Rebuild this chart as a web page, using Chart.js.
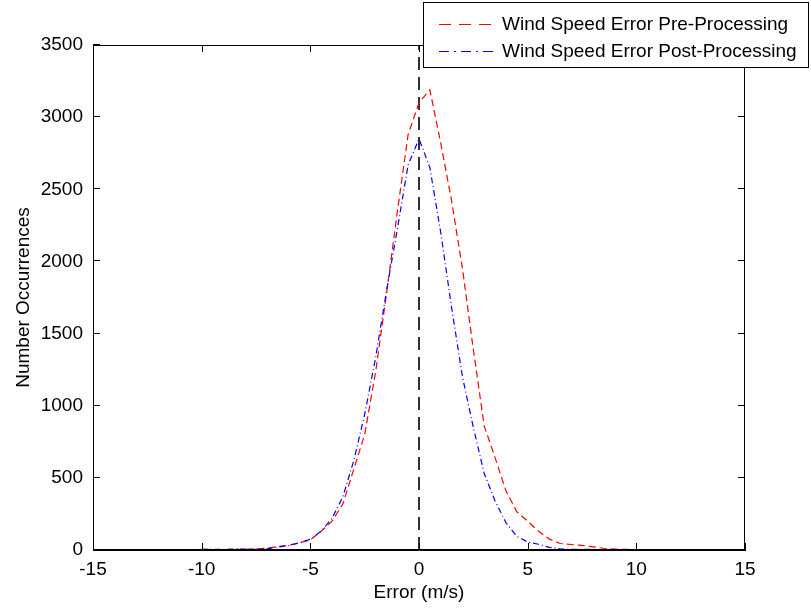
<!DOCTYPE html>
<html>
<head>
<meta charset="utf-8">
<script src="https://cdn.jsdelivr.net/npm/chart.js@4"></script>
<style>
  html, body { margin: 0; padding: 0; background: #fff; }
  #wrap { width: 811px; height: 611px; }
</style>
</head>
<body>
<div id="wrap"><canvas id="errChart" width="811" height="611"></canvas></div>
<script>
// bin centres of the error histogram (m/s)
const binCenters = [-13, -12, -11, -10, -9, -8, -7.5, -7, -6.5, -6, -5.5, -5, -4.5, -4, -3.5, -3, -2.5, -2, -1.5, -1, -0.5,
  0, 0.5, 1, 1.5, 2, 2.5, 3, 3.5, 4, 4.5, 5, 5.5, 6, 6.5, 7, 7.5, 8, 8.5, 9, 10, 11, 12, 13, 14];

// counts before processing (red dashed)
const preCounts = [2, 0, 1, 4, 3, 5, 8, 12, 25, 33, 50, 70, 130, 200, 320, 560, 800, 1230, 1770, 2340, 2880,
  3100, 3190, 2820, 2420, 1950, 1390, 860, 640, 410, 265, 200, 130, 75, 45, 38, 32, 22, 12, 6, 3, 2, 2, 1, 1];

// counts after processing (blue dash-dot)
const postCounts = [0, 3, 2, 4, 5, 6, 5, 8, 20, 30, 50, 75, 130, 220, 370, 620, 940, 1330, 1790, 2220, 2670,
  2850, 2650, 2200, 1680, 1200, 850, 530, 340, 190, 95, 55, 40, 18, 8, 5, 4, 4, 3, 3, 2, 1, 0, 0, 0];

const xTicks = [-15, -10, -5, 0, 5, 10, 15];
const yTicks = [0, 500, 1000, 1500, 2000, 2500, 3000, 3500];

const seriesNames = ['Wind Speed Error Pre-Processing', 'Wind Speed Error Post-Processing'];

const FONT = { family: 'Liberation Sans, Arial, Helvetica, sans-serif', size: 19 };

function toPoints(xs, ys) {
  return xs.map((x, i) => ({ x: x, y: ys[i] }));
}

// MATLAB style box + inward ticks on all four sides
const boxTicks = {
  id: 'boxTicks',
  afterDraw(chart) {
    const ctx = chart.ctx;
    const a = chart.chartArea;
    const xs = chart.scales.x, ys = chart.scales.y;
    const len = 7;
    ctx.save();
    ctx.strokeStyle = '#000';
    ctx.lineWidth = 1;
    ctx.strokeRect(Math.round(a.left) + 0.5, Math.round(a.top) + 0.5,
      Math.round(a.right - a.left) - 1, Math.round(a.bottom - a.top) - 1);
    ctx.beginPath();
    xTicks.forEach(v => {
      const px = Math.round(xs.getPixelForValue(v)) + 0.5;
      ctx.moveTo(px, a.bottom); ctx.lineTo(px, a.bottom - len);
      ctx.moveTo(px, a.top); ctx.lineTo(px, a.top + len);
    });
    yTicks.forEach(v => {
      const py = Math.round(ys.getPixelForValue(v)) - 0.5;
      ctx.moveTo(a.left, py); ctx.lineTo(a.left + len, py);
      ctx.moveTo(a.right, py); ctx.lineTo(a.right - len, py);
    });
    ctx.stroke();
    ctx.restore();
  }
};

// legend box sitting over the top right corner
const boxLegend = {
  id: 'boxLegend',
  afterDraw(chart) {
    const ctx = chart.ctx;
    const bx = 423.5, by = 2.5, bw = 385, bh = 65;
    ctx.save();
    ctx.fillStyle = '#fff';
    ctx.fillRect(bx, by, bw, bh);
    ctx.strokeStyle = '#000';
    ctx.lineWidth = 1;
    ctx.strokeRect(bx, by, bw, bh);
    const rows = [
      { y: 24, color: '#ff0000', dash: [12, 8] },
      { y: 51, color: '#0000ff', dash: [10, 5, 2, 5] }
    ];
    rows.forEach((r, i) => {
      ctx.beginPath();
      ctx.setLineDash(r.dash);
      ctx.strokeStyle = r.color;
      ctx.moveTo(439, r.y + 0.5);
      ctx.lineTo(497, r.y + 0.5);
      ctx.stroke();
      ctx.setLineDash([]);
      ctx.fillStyle = '#000';
      ctx.font = FONT.size + 'px ' + FONT.family;
      ctx.textBaseline = 'middle';
      ctx.textAlign = 'left';
      ctx.fillText(seriesNames[i], 502, r.y + 1);
    });
    ctx.restore();
  }
};

function renderErrorChart() {
  const ctx = document.getElementById('errChart').getContext('2d');
  new Chart(ctx, {
    type: 'line',
    data: {
      datasets: [
        {
          label: seriesNames[0],
          data: toPoints(binCenters, preCounts),
          borderColor: '#ff0000',
          borderWidth: 1.2,
          borderDash: [7, 4],
          pointRadius: 0,
          tension: 0,
          order: 2
        },
        {
          label: seriesNames[1],
          data: toPoints(binCenters, postCounts),
          borderColor: '#0000ff',
          borderWidth: 1.2,
          borderDash: [6, 3, 1, 3],
          pointRadius: 0,
          tension: 0,
          order: 1
        },
        {
          label: 'zero',
          data: [{ x: 0, y: 0 }, { x: 0, y: 3500 }],
          borderColor: '#000',
          borderWidth: 1.6,
          borderDash: [13, 7],
          pointRadius: 0,
          order: 3
        }
      ]
    },
    options: {
      responsive: false,
      animation: false,
      layout: { padding: { left: 0, top: 45, right: 66, bottom: 0 } },
      plugins: { legend: { display: false }, tooltip: { enabled: false } },
      scales: {
        x: {
          type: 'linear',
          min: -15, max: 15,
          afterBuildTicks: s => { s.ticks = xTicks.map(v => ({ value: v })); },
          afterFit: s => { s.height = 61; },
          grid: { drawOnChartArea: false, drawTicks: false },
          border: { color: '#000', width: 1 },
          ticks: { color: '#000', font: FONT, padding: 8, maxRotation: 0, callback: v => String(v) },
          title: { display: true, text: 'Error (m/s)', color: '#000', font: FONT, padding: { top: 0, bottom: 7 } }
        },
        y: {
          type: 'linear',
          min: 0, max: 3500,
          afterBuildTicks: s => { s.ticks = yTicks.map(v => ({ value: v })); },
          afterFit: s => { s.width = 93; },
          grid: { drawOnChartArea: false, drawTicks: false },
          border: { color: '#000', width: 1 },
          ticks: { color: '#000', font: FONT, padding: 10, callback: v => String(v) },
          title: { display: true, text: 'Number Occurrences', color: '#000', font: FONT, padding: { top: 12, bottom: 0 } }
        }
      }
    },
    plugins: [boxTicks, boxLegend]
  });
}

if (document.readyState === 'loading') {
  document.addEventListener('DOMContentLoaded', renderErrorChart);
} else {
  renderErrorChart();
}
</script>
</body>
</html>
